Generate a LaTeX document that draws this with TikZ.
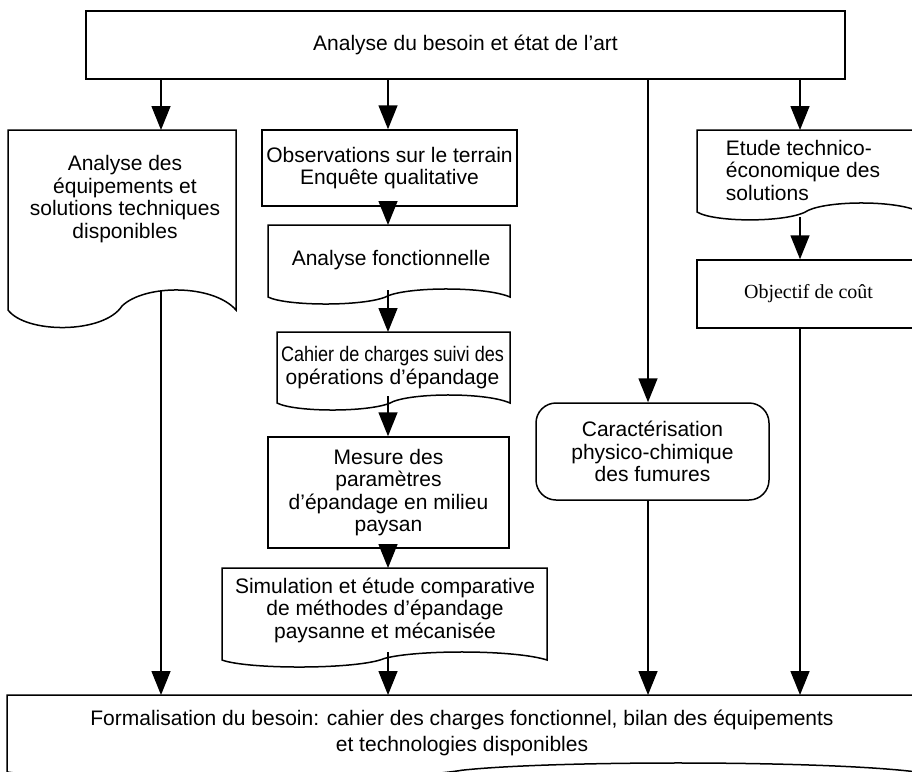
\documentclass[tikz,border=0pt]{standalone}
\usepackage{fontspec}
\usepackage{graphicx}
\setmainfont{Liberation Sans}
\newfontfamily\timesf{Liberation Serif}
\usetikzlibrary{arrows.meta}
% document shape: L T R y0 a
\newcommand{\docshape}[5]{%
  \draw[boxline] (#1,#2) -- (#3,#2) -- (#3,#4)
   .. controls ({#3-0.1*(#3-#1)},{#4-1.3*#5}) and ({#1+0.6*(#3-#1)},{#4-1.3*#5}) .. ({#1+0.5*(#3-#1)},{#4-0.2*#5})
   .. controls ({#1+0.42*(#3-#1)},{#4+1.2*#5}) and ({#1+0.08*(#3-#1)},{#4+1.2*#5}) .. (#1,#4) -- cycle;}
\begin{document}
\begin{tikzpicture}[x=1pt,y=-1pt,
  boxline/.style={draw=black,line width=1.5pt,fill=white},
  txt/.style={font=\fontsize{21}{22.5}\selectfont,align=center,inner sep=0pt},
  rbox/.style={boxline,txt,inner sep=0pt},
  arr/.style={line width=1.5pt,-{Triangle[length=24pt,width=19pt]}},
  ln/.style={line width=1.5pt}]
\useasboundingbox[fill=white] (0,0) rectangle (912,771);

% column coordinates
\coordinate (c1) at (161,0);
\coordinate (c2) at (388,0);
\coordinate (c3) at (648,0);
\coordinate (c4) at (800,0);

% top box
\node[rbox,minimum width=759pt,minimum height=68pt] (top) at (465.5,45) {Analyse du besoin et état de l’art};

% left document box
\docshape{8}{130}{236}{310}{20}
\node[txt] (ldoc) at (125,199) {Analyse des\\équipements et\\solutions techniques\\disponibles};
\coordinate (ldocin) at (161,130);
\coordinate (ldocout) at (161,291);

% observations
\node[rbox,minimum width=255pt,minimum height=76pt] (obs) at (389.5,168) {Observations sur le terrain\\Enquête qualitative};

% analyse fonctionnelle
\docshape{268}{225}{510}{297}{8}
\node[txt] (af) at (391,260) {Analyse fonctionnelle};
\coordinate (afin) at (388,225);
\coordinate (afout) at (388,290);

% cahier
\docshape{277}{332}{510}{403}{8}
\node[txt] (cah) at (392.5,367.5) {\scalebox{0.86}[1]{Cahier de charges suivi des}\\opérations d’épandage};
\coordinate (cahin) at (388,332);
\coordinate (cahout) at (388,396);

% mesure
\node[rbox,minimum width=241pt,minimum height=111pt] (mes) at (388.5,492.5) {Mesure des\\paramètres\\d’épandage en milieu\\paysan};

% simulation
\docshape{222}{568}{547}{660}{8}
\node[txt] (sim) at (385,610) {Simulation et étude comparative\\de méthodes d’épandage\\paysanne et mécanisée};
\coordinate (simin) at (388,568);
\coordinate (simout) at (388,652);

% caracterisation
\node[rbox,rounded corners=20pt,minimum width=233pt,minimum height=97pt] (car) at (652.5,451.5) {Caractérisation\\physico-chimique\\des fumures};

% etude
\docshape{697}{130}{920}{212}{9}
\node[txt,align=left] (et) at (803,170) {Etude technico-\\économique des\\solutions};
\coordinate (etin) at (800,130);
\coordinate (etout) at (800,217);

% objectif
\node[boxline,inner sep=0pt,minimum width=223pt,minimum height=68pt,font=\timesf\fontsize{20}{22}\selectfont] (obj) at (808.5,294) {Objectif de coût};

% bottom box
\docshape{7}{695}{917}{772}{9}
\node[txt,font=\fontsize{21}{26}\selectfont] (bot) at (462,733) {Formalisation du besoin: cahier des charges fonctionnel, bilan des équipements\\et technologies disponibles};
\coordinate (botin) at (0,695);

% connectors
\draw[arr] (top.south -| c1) -- (ldocin);
\draw[arr] (top.south -| c2) -- (obs.north -| c2);
\draw[arr] (top.south -| c3) -- (car.north -| c3);
\draw[arr] (top.south -| c4) -- (etin);
\draw[arr] (obs.south -| c2) -- (afin);
\draw[arr] (afout) -- (cahin);
\draw[arr] (cahout) -- (mes.north -| c2);
\draw[arr] (mes.south -| c2) -- (simin);
\draw[arr] (etout) -- (obj.north -| c4);
\draw[arr] (ldocout) -- (botin -| c1);
\draw[arr] (simout) -- (botin -| c2);
\draw[arr] (car.south -| c3) -- (botin -| c3);
\draw[arr] (obj.south -| c4) -- (botin -| c4);
\end{tikzpicture}
\end{document}
